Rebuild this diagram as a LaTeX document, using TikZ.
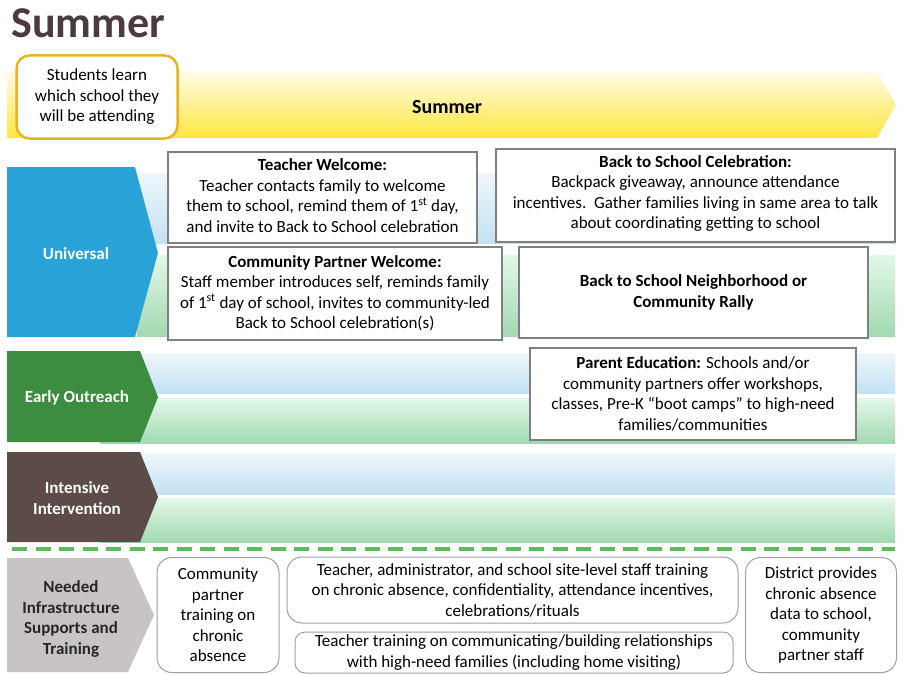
\documentclass[tikz,border=0pt]{standalone}
\usepackage{fontspec}
\setmainfont{Carlito}
\definecolor{titlebrown}{HTML}{4B3B3D}
\definecolor{univblue}{HTML}{29A3D7}
\definecolor{earlygreen}{HTML}{3C8D3F}
\definecolor{intbrown}{HTML}{5D4B48}
\definecolor{needgray}{HTML}{C8C4C4}
\definecolor{boxgray}{HTML}{808080}
\definecolor{roundgray}{HTML}{A0A0A0}
\definecolor{stuborder}{HTML}{E6B422}
\definecolor{bandbluetop}{HTML}{EEF6FC}
\definecolor{bandbluebot}{HTML}{C4E1F3}
\definecolor{bandgreentop}{HTML}{E2F8E8}
\definecolor{bandgreenbot}{HTML}{A3D9B1}
\definecolor{yellowtop}{HTML}{FFFCE6}
\definecolor{yellowbot}{HTML}{FFE640}
\definecolor{dashgreen}{HTML}{5DBB5D}
\tikzset{
  txt/.style={font=\fontsize{17}{20.5}\selectfont, align=center, inner sep=0pt},
  tbox/.style={txt, draw=boxgray, line width=1.3pt, fill=white},
  rbox/.style={txt, draw=roundgray, line width=1pt, fill=white, rounded corners=15pt},
  chevlabel/.style={font=\fontsize{17}{20.5}\selectfont\bfseries, align=center, text=white, inner sep=0pt},
  bandblue/.style={top color=bandbluetop, bottom color=bandbluebot, draw=none},
  bandgreen/.style={top color=bandgreentop, bottom color=bandgreenbot, draw=none},
}
\begin{document}
\begin{tikzpicture}[x=1pt,y=-1pt]
\useasboundingbox (0,0) rectangle (912,674);
\fill[white] (0,0) rectangle (912,674);

% title
\node[font=\fontsize{44}{48}\selectfont\bfseries, text=titlebrown, anchor=west, inner sep=0pt] (title) at (11,23) {Summer};

% yellow arrow
\shade[top color=yellowtop, bottom color=yellowbot] (7,72) -- (877,72) -- (896,105) -- (877,138) -- (7,138) -- cycle;
\node[font=\fontsize{20}{24}\selectfont\bfseries, inner sep=0pt] (summerband) at (447,107) {Summer};
\node[txt, draw=stuborder, line width=2.5pt, fill=white, rounded corners=13pt, minimum width=161pt, minimum height=83pt] (students) at (97,97) {Students learn\\which school they\\will be attending};

% bands
\shade[bandblue] (137,173) rectangle (895,243);
\shade[bandgreen] (137,255) rectangle (895,336);
\shade[bandblue] (100,353) rectangle (895,393);
\shade[bandgreen] (100,398) rectangle (895,443);
\shade[bandblue] (100,453) rectangle (895,494);
\shade[bandgreen] (100,498) rectangle (895,542);

% chevrons
\fill[univblue] (7,167) -- (135,167) -- (158,253) -- (135,337) -- (7,337) -- cycle;
\node[chevlabel] (universal) at (76,254) {Universal};
\fill[earlygreen] (7,351) -- (140,351) -- (158,397) -- (140,442) -- (7,442) -- cycle;
\node[chevlabel] (early) at (77,398) {Early Outreach};
\fill[intbrown] (7,452) -- (140,452) -- (158,497) -- (140,542) -- (7,542) -- cycle;
\node[chevlabel] (intensive) at (77,498) {Intensive\\Intervention};
\fill[needgray] (7,558) -- (128,558) -- (154,615) -- (128,672) -- (7,672) -- cycle;
\node[chevlabel, text=black!85] (needed) at (71,619) {Needed\\Infrastructure\\Supports and\\Training};

% dashed line
\coordinate (dl) at (12,549);
\coordinate (dr) at (895,549);
\draw[dashgreen, line width=3.5pt, dash pattern=on 15pt off 8.5pt] (dl) -- (dr);

% universal boxes
\node[tbox, minimum width=309pt, minimum height=91pt] (tw) at (322.5,197.5) {};
\node[txt] (twt) at (322.5,195.5)
  {\textbf{Teacher Welcome:}\\Teacher contacts family to welcome\\them to school, remind them of 1\textsuperscript{st} day,\\and invite to Back to School celebration};
\node[tbox, minimum width=334pt, minimum height=93pt] (cpw) at (335,293.5) {};
\node[txt] (cpwt) at (335,293)
  {\textbf{Community Partner Welcome:}\\Staff member introduces self, reminds family\\of 1\textsuperscript{st} day of school, invites to community-led\\Back to School celebration(s)};
\node[tbox, minimum width=399pt, minimum height=93pt] (btsc) at (695.5,195.5) {};
\node[txt] (btsct) at (695.5,193.5)
  {\textbf{Back to School Celebration:}\\Backpack giveaway, announce attendance\\incentives.\ \ Gather families living in same area to talk\\about coordinating getting to school};
\node[tbox, minimum width=349pt, minimum height=91pt] (btsn) at (693.5,292.5)
  {\textbf{Back to School Neighborhood or}\\\textbf{Community Rally}};

% early outreach box
\node[tbox, minimum width=326pt, minimum height=92pt] (pe) at (693,394)
  {\textbf{Parent Education:} Schools and/or\\community partners offer workshops,\\classes, Pre-K “boot camps” to high-need\\families/communities};

% infrastructure boxes
\node[rbox, minimum width=122pt, minimum height=115pt] (cpt) at (218,615)
  {Community\\partner\\training on\\chronic\\absence};
\node[rbox, minimum width=451pt, minimum height=66pt] (tat) at (512.5,590)
  {Teacher, administrator, and school site-level staff training\\on chronic absence, confidentiality, attendance incentives,\\celebrations/rituals};
\node[rbox, rounded corners=10pt, minimum width=438pt, minimum height=41pt] (ttr) at (514,652.5)
  {Teacher training on communicating/building relationships\\with high-need families (including home visiting)};
\node[rbox, minimum width=151pt, minimum height=115pt] (dist) at (821,615)
  {District provides\\chronic absence\\data to school,\\community\\partner staff};
\end{tikzpicture}
\end{document}
